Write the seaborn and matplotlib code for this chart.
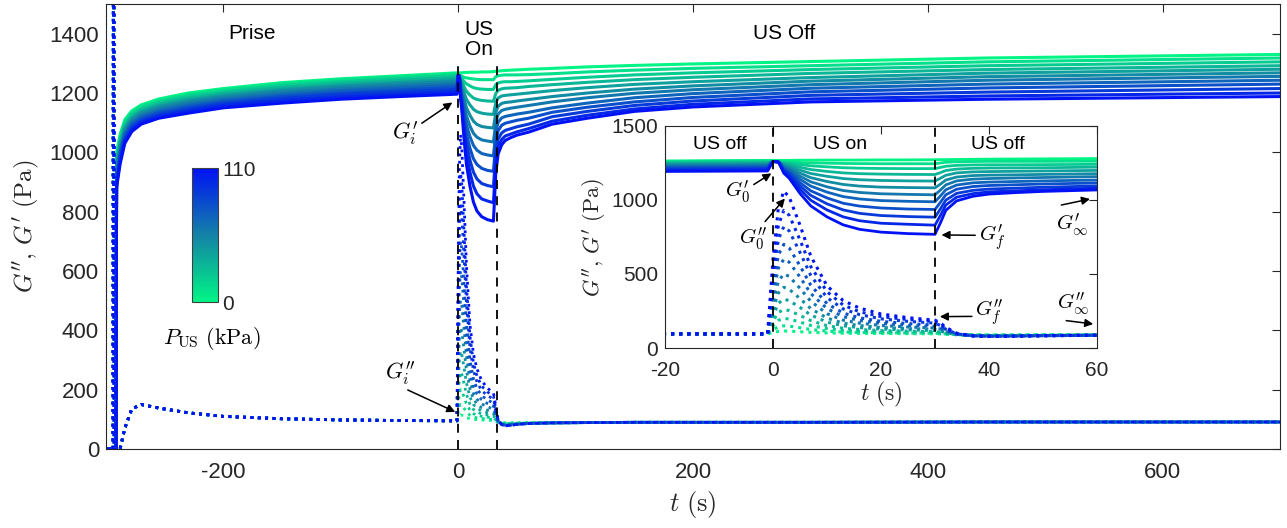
import numpy as np
import pandas as pd
import matplotlib
import matplotlib.pyplot as plt
import seaborn as sns
from matplotlib.colors import LinearSegmentedColormap, Normalize
from matplotlib.colorbar import ColorbarBase

# ------------------------------------------------------
# Data (G' solid, G'' dotted, one row per US pressure)
# ------------------------------------------------------

pressures = [0, 10, 20, 30, 40, 50, 60, 70, 80, 90, 100, 110]

t_start = [-300, -294, -293.5, -293, -291.5]
t_pre = [-291, -288, -284, -278, -270, -255, -230, -200, -150, -100, -50, -1]
t_us = [0, 1, 2, 3, 5, 7, 10, 13, 16, 20, 25, 30]
t_rec = [31, 32, 34, 37, 40, 45, 50, 60]
t_post = [80, 110, 150, 200, 300, 450, 700]

gp_start = [0, 0, 0, 0, 0]
gpp_start = [0, 0, 3000, 0, 0]

gp_pre = [
    [1000, 1060, 1110, 1140, 1160, 1180, 1200, 1215, 1235, 1248, 1258, 1268],
    [990, 1052, 1103, 1134, 1155, 1175, 1195, 1210, 1231, 1244, 1254, 1264],
    [975, 1042, 1095, 1127, 1148, 1169, 1189, 1204, 1225, 1238, 1248, 1258],
    [965, 1033, 1088, 1121, 1142, 1163, 1183, 1199, 1219, 1232, 1242, 1252],
    [955, 1025, 1081, 1115, 1137, 1157, 1177, 1193, 1213, 1226, 1236, 1246],
    [945, 1017, 1074, 1110, 1132, 1152, 1172, 1188, 1208, 1221, 1231, 1240],
    [935, 1008, 1066, 1103, 1125, 1145, 1165, 1182, 1201, 1214, 1224, 1233],
    [925, 1000, 1060, 1097, 1119, 1139, 1158, 1176, 1194, 1208, 1217, 1226],
    [910, 990, 1052, 1090, 1113, 1133, 1152, 1170, 1188, 1201, 1210, 1219],
    [900, 980, 1044, 1084, 1107, 1127, 1146, 1164, 1182, 1195, 1203, 1212],
    [890, 970, 1037, 1077, 1101, 1121, 1139, 1158, 1174, 1187, 1195, 1204],
    [880, 960, 1030, 1070, 1095, 1115, 1132, 1150, 1166, 1179, 1188, 1196],
]
gp_us = [
    [1268, 1268, 1268, 1268, 1269, 1269, 1270, 1270, 1270, 1271, 1271, 1272],
    [1262, 1260, 1258, 1257, 1253, 1251, 1249, 1247, 1246, 1245, 1245, 1245],
    [1260, 1258, 1252, 1249, 1239, 1231, 1224, 1218, 1215, 1213, 1212, 1212],
    [1260, 1257, 1246, 1240, 1221, 1206, 1193, 1183, 1178, 1175, 1173, 1172],
    [1260, 1257, 1239, 1230, 1202, 1179, 1160, 1145, 1137, 1132, 1129, 1128],
    [1260, 1257, 1232, 1219, 1182, 1151, 1125, 1105, 1094, 1087, 1084, 1082],
    [1260, 1257, 1224, 1208, 1161, 1123, 1089, 1064, 1051, 1042, 1038, 1035],
    [1260, 1257, 1216, 1197, 1140, 1094, 1053, 1023, 1007, 996, 991, 988],
    [1260, 1257, 1208, 1185, 1117, 1062, 1014, 978, 959, 946, 939, 936],
    [1260, 1257, 1200, 1174, 1095, 1031, 974, 933, 910, 895, 888, 884],
    [1260, 1257, 1191, 1161, 1071, 998, 933, 886, 860, 843, 836, 830],
    [1260, 1257, 1181, 1147, 1044, 960, 886, 832, 802, 783, 773, 768],
]
gp_rec = [
    [1273, 1273, 1274, 1275, 1276, 1277, 1278, 1280],
    [1250, 1255, 1258, 1260, 1261, 1261, 1261, 1262],
    [1220, 1228, 1234, 1237, 1238, 1238, 1239, 1241],
    [1185, 1199, 1209, 1214, 1216, 1217, 1218, 1222],
    [1147, 1167, 1183, 1190, 1192, 1194, 1196, 1200],
    [1107, 1135, 1155, 1165, 1168, 1170, 1173, 1178],
    [1067, 1102, 1129, 1141, 1145, 1149, 1152, 1158],
    [1027, 1069, 1101, 1116, 1121, 1125, 1129, 1135],
    [984, 1035, 1073, 1091, 1098, 1103, 1108, 1115],
    [940, 999, 1045, 1065, 1074, 1080, 1086, 1095],
    [895, 966, 1019, 1043, 1055, 1062, 1069, 1080],
    [845, 930, 994, 1025, 1040, 1050, 1058, 1068],
]
gp_post = [
    [1283, 1288, 1293, 1298, 1306, 1318, 1330],
    [1265, 1271, 1277, 1283, 1292, 1305, 1318],
    [1246, 1253, 1261, 1268, 1279, 1292, 1305],
    [1228, 1236, 1245, 1253, 1266, 1279, 1292],
    [1208, 1218, 1229, 1238, 1252, 1267, 1280],
    [1188, 1200, 1213, 1224, 1240, 1255, 1268],
    [1170, 1184, 1199, 1211, 1228, 1243, 1256],
    [1150, 1166, 1184, 1198, 1216, 1230, 1243],
    [1135, 1152, 1170, 1185, 1204, 1217, 1230],
    [1120, 1138, 1158, 1173, 1192, 1203, 1215],
    [1105, 1125, 1146, 1162, 1180, 1190, 1200],
    [1095, 1115, 1138, 1153, 1170, 1179, 1188],
]

gpp_pre = [0, 0, 70, 135, 150, 138, 122, 110, 102, 98, 96, 95]
gpp_us = [
    [105, 112, 115, 114, 110, 106, 102, 100, 99, 98, 97, 96],
    [124, 143, 150, 148, 137, 125, 114, 108, 105, 103, 101, 100],
    [150, 187, 200, 196, 175, 152, 131, 119, 114, 110, 107, 105],
    [181, 240, 260, 253, 220, 185, 151, 133, 125, 118, 114, 111],
    [217, 302, 330, 320, 274, 223, 175, 150, 138, 128, 122, 118],
    [259, 372, 410, 397, 334, 266, 202, 168, 152, 139, 131, 126],
    [306, 452, 500, 484, 403, 315, 232, 188, 168, 152, 142, 135],
    [358, 540, 600, 580, 479, 368, 266, 212, 186, 166, 153, 145],
    [410, 630, 700, 676, 555, 424, 300, 236, 204, 180, 165, 155],
    [470, 735, 820, 791, 646, 490, 340, 264, 226, 197, 180, 168],
    [530, 830, 930, 897, 730, 550, 380, 290, 245, 212, 192, 178],
    [600, 950, 1060, 1020, 830, 620, 420, 320, 270, 230, 205, 188],
]
gpp_rec = [
    [95, 93, 90, 89, 88, 88, 88, 89],
    [98, 95, 90, 88, 87, 87, 88, 88],
    [102, 97, 90, 87, 86, 86, 87, 88],
    [107, 100, 91, 86, 84, 85, 86, 87],
    [113, 104, 92, 85, 83, 84, 85, 87],
    [120, 108, 92, 84, 82, 83, 84, 87],
    [128, 112, 93, 83, 81, 82, 84, 86],
    [135, 117, 94, 83, 80, 81, 83, 86],
    [142, 122, 95, 82, 80, 81, 83, 86],
    [152, 127, 96, 82, 79, 80, 83, 86],
    [160, 132, 98, 82, 79, 80, 83, 86],
    [170, 140, 100, 82, 78, 80, 83, 86],
]
gpp_post = [88, 89, 90, 90, 90, 91, 91]

# long table for seaborn
t_all = t_start + t_pre + t_us + t_rec + t_post
records = []
for i, p in enumerate(pressures):
    g1 = gp_start + gp_pre[i] + gp_us[i] + gp_rec[i] + gp_post[i]
    g2 = gpp_start + gpp_pre + gpp_us[i] + gpp_rec[i] + gpp_post
    for t, a, b in zip(t_all, g1, g2):
        records.append({"t": t, "P": p, "Gp": a, "Gpp": b})
df = pd.DataFrame(records)

# ------------------------------------------------------
# Style
# ------------------------------------------------------
sns.set_theme(style="white")
plt.rcParams["font.family"] = ["Liberation Sans", "DejaVu Sans"]
plt.rcParams["mathtext.fontset"] = "cm"
plt.rcParams["axes.unicode_minus"] = False
axis_col = "#262626"
plt.rcParams["axes.edgecolor"] = axis_col
plt.rcParams["xtick.color"] = axis_col
plt.rcParams["ytick.color"] = axis_col
plt.rcParams["text.color"] = "black"

cmap = LinearSegmentedColormap.from_list("pus", ["#00F585", "#1482A6", "#0012F5"])
norm = Normalize(0, 110)

fig = plt.figure(figsize=(12.87, 5.28), dpi=100)
ax = fig.add_axes([106 / 1287, 1 - 449 / 528, 1174 / 1287, 445 / 528])


def draw(axis, lw_s, lw_d):
    sns.lineplot(data=df, x="t", y="Gp", hue="P", palette=cmap, hue_norm=norm,
                 estimator=None, sort=False, legend=False, lw=lw_s, ax=axis)
    sns.lineplot(data=df, x="t", y="Gpp", hue="P", palette=cmap, hue_norm=norm,
                 estimator=None, sort=False, legend=False, lw=lw_d,
                 linestyle=":", ax=axis)


def matlab_box(axis, size):
    for s in axis.spines.values():
        s.set_linewidth(0.8)
        s.set_color(axis_col)
    axis.tick_params(direction="in", top=True, right=True, length=6,
                     width=0.8, labelsize=size, pad=5)
    axis.tick_params(axis="x", pad=9)


ylab = r"$G^{\prime\prime},\, G^{\prime}\ (\mathrm{Pa})$"

draw(ax, 2.2, 2.0)
ax.set_xlim(-300, 700)
ax.set_ylim(0, 1500)
ax.set_xticks([-200, 0, 200, 400, 600])
ax.set_yticks(range(0, 1401, 200))
matlab_box(ax, 16)
ax.set_xlabel(r"$t\ (\mathrm{s})$", fontsize=19, labelpad=5)
ax.set_ylabel(ylab, fontsize=18, labelpad=6)

ax.vlines([0, 33], 0, 1300, colors="black", linestyles=(0, (5, 4)), lw=1.3)
ax.text(-176, 1400, "Prise", fontsize=15, ha="center", va="center")
ax.text(18, 1381, "US\nOn", fontsize=15, ha="center", va="center", linespacing=1.05)
ax.text(278, 1400, "US Off", fontsize=15, ha="center", va="center")

arrow = dict(arrowstyle="-|>", color="black", lw=1.1, mutation_scale=12,
             shrinkA=0, shrinkB=0)
ax.annotate(r"$G^{\prime}_{i}$", xy=(-5, 1168), xytext=(-45, 1063), fontsize=16,
            ha="center", va="center", arrowprops=dict(arrow, relpos=(1.0, 0.8)))
ax.annotate(r"$G^{\prime\prime}_{i}$", xy=(-2.5, 125), xytext=(-49, 256), fontsize=16,
            ha="center", va="center", arrowprops=dict(arrow, relpos=(0.5, 0.0)))

# ------------------------------------------------------
# Inset
# ------------------------------------------------------
axi = fig.add_axes([665 / 1287, 1 - 348 / 528, 432 / 1287, 222 / 528])
draw(axi, 2.0, 2.2)
axi.set_xlim(-20, 60)
axi.set_ylim(0, 1500)
axi.set_xticks([-20, 0, 20, 40, 60])
axi.set_yticks([0, 500, 1000, 1500])
matlab_box(axi, 15)
axi.set_xlabel(r"$t\ (\mathrm{s})$", fontsize=17, labelpad=0)
axi.set_ylabel(ylab, fontsize=16, labelpad=2)
axi.axvline(0, color="black", ls=(0, (5, 4)), lw=1.3)
axi.axvline(30, color="black", ls=(0, (5, 4)), lw=1.3)
axi.text(-9.8, 1372, "US off", fontsize=14, ha="center", va="center")
axi.text(12.5, 1372, "US on", fontsize=14, ha="center", va="center")
axi.text(41.7, 1372, "US off", fontsize=14, ha="center", va="center")

axi.annotate(r"$G^{\prime}_{0}$", xy=(-0.3, 1180), xytext=(-6.5, 1054), fontsize=15,
             ha="center", va="center", arrowprops=dict(arrow, relpos=(1.0, 0.7)))
axi.annotate(r"$G^{\prime\prime}_{0}$", xy=(2.2, 1010), xytext=(-3.6, 741), fontsize=15,
             ha="center", va="center", arrowprops=dict(arrow, relpos=(0.8, 1.0)))
axi.annotate(r"$G^{\prime}_{f}$", xy=(31.2, 764), xytext=(40.5, 741), fontsize=15,
             ha="center", va="center", arrowprops=dict(arrow, relpos=(0.0, 0.6)))
axi.annotate(r"$G^{\prime\prime}_{f}$", xy=(30.9, 212), xytext=(40.1, 234), fontsize=15,
             ha="center", va="center", arrowprops=dict(arrow, relpos=(0.0, 0.4)))
axi.annotate("", xy=(58.7, 1007), xytext=(53.4, 966), arrowprops=arrow)
axi.text(55.3, 831, r"$G^{\prime}_{\infty}$", fontsize=15, ha="center", va="center")
axi.annotate("", xy=(59.3, 162), xytext=(54.3, 185), arrowprops=arrow)
axi.text(55.6, 302, r"$G^{\prime\prime}_{\infty}$", fontsize=15, ha="center", va="center")

# ------------------------------------------------------
# Colorbar
# ------------------------------------------------------
cax = fig.add_axes([192 / 1287, 1 - 302 / 528, 26 / 1287, 134 / 528])
cb = ColorbarBase(cax, cmap=cmap, norm=norm, ticks=[0, 110])
cb.outline.set_edgecolor("#404040")
cb.outline.set_linewidth(0.8)
cax.tick_params(length=0, labelsize=15, pad=3)
fig.text(212 / 1287, 1 - 338 / 528, r"$P_{\rm US}\ ({\rm kPa})$", fontsize=16,
         ha="center", va="center")

fig.savefig("out.png", dpi=100)
